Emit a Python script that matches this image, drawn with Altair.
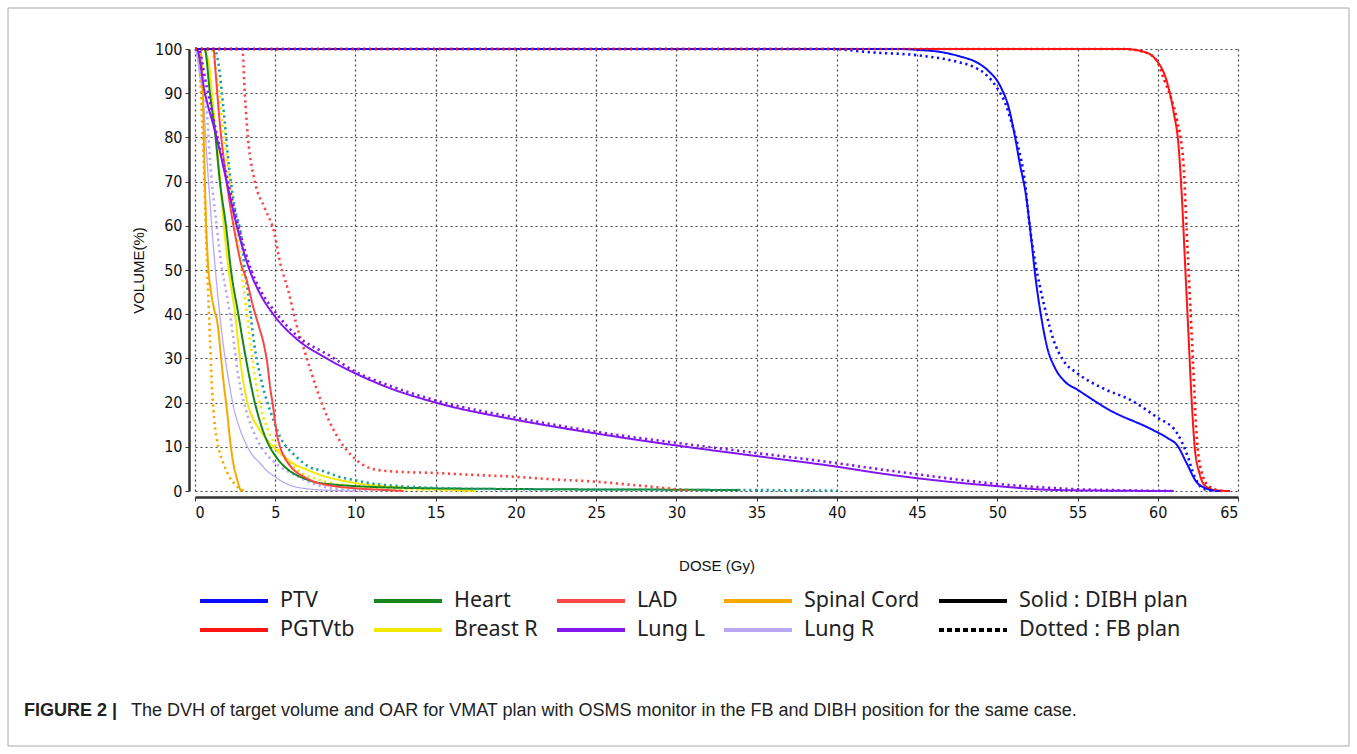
import altair as alt
import pandas as pd

ptv_dibh_dose = [0, 44, 45, 46.5, 47.7, 48.7, 49.4, 50.2, 50.7, 51.1, 51.4, 51.8, 52.1, 52.4, 52.7, 53.1, 53.6, 54.2, 55.0, 57.0, 59.7, 60.6, 61.2, 61.8, 62.4, 63.0, 63.5, 64]
ptv_dibh_vol = [100, 100, 99.8, 99.3, 98.3, 97, 95.2, 91.5, 86.9, 80.2, 74.1, 66.6, 57.5, 47.7, 40.2, 32.6, 27.8, 24.8, 22.9, 18.3, 13.8, 12, 10.4, 6.3, 2.1, 0.6, 0.1, 0]

ptv_fb_dose = [0, 39.5, 42.3, 45, 47.5, 48.5, 49.2, 50, 50.5, 50.9, 51.3, 51.7, 52.0, 52.3, 52.7, 53.1, 53.5, 54.1, 55, 56.6, 58.3, 59.9, 61.2, 61.8, 62.3, 62.8, 63.2, 63.6]
ptv_fb_vol = [100, 100, 99.2, 98.6, 97.1, 96, 94.5, 91.1, 87.7, 83.2, 77.9, 70.4, 60.6, 53, 45.5, 39.4, 34.2, 29.6, 26.6, 23.2, 20.6, 16.8, 13.1, 8.5, 3.2, 0.6, 0.2, 0]

pgtv_dibh_dose = [0, 57.9, 59.1, 59.9, 60.6, 61.0, 61.3, 61.5, 61.7, 61.9, 62.1, 62.3, 62.6, 63.0, 63.7, 64.5]
pgtv_dibh_vol = [100, 100, 99.4, 97.5, 92.2, 85.5, 77.9, 66.6, 51.5, 36.4, 21.3, 10.0, 4.0, 1.0, 0.1, 0]

pgtv_fb_dose = [0, 57.9, 59.1, 59.9, 60.4, 60.8, 61.2, 61.6, 61.8, 62.0, 62.2, 62.4, 62.7, 63.2, 64.0]
pgtv_fb_vol = [100, 100, 99.4, 97.6, 93, 89.2, 83.9, 74.1, 59, 44, 28.9, 13.8, 4.75, 1.0, 0]

heart_dibh_dose = [0, 0.6, 0.93, 1.28, 1.55, 1.93, 2.24, 2.7, 3.17, 3.73, 4.2, 4.66, 5.0, 5.5, 6.0, 6.7, 7.5, 8.5, 10, 12, 15, 20, 25, 30, 34]
heart_dibh_vol = [100, 100, 90, 80, 70, 60, 50, 40, 30, 20, 14, 10, 8, 5.8, 4.3, 3, 2, 1.5, 1.1, 0.8, 0.6, 0.45, 0.35, 0.3, 0.2]

heart_fb_dose = [0, 1.2, 1.45, 1.76, 2.13, 2.48, 2.9, 3.1, 3.3, 3.7, 4.2, 4.7, 5.3, 6.3, 7.1, 8, 9, 10, 11, 12.7, 15, 17, 20, 25, 30, 35, 40]
heart_fb_vol = [100, 100, 97, 87, 73, 64, 57, 50, 45, 33, 24, 18, 12.3, 7.8, 5.5, 4.5, 3.2, 2.4, 1.7, 1.1, 0.7, 0.5, 0.4, 0.3, 0.25, 0.2, 0.1]

breast_dibh_dose = [0, 0.5, 0.85, 1.1, 1.5, 1.85, 2.1, 2.5, 2.8, 3.2, 3.6, 4.0, 4.5, 5.0, 5.5, 6, 7, 8, 9, 10, 12, 14, 16, 17.5]
breast_dibh_vol = [100, 100, 97, 88, 73, 58, 50, 40, 30, 21, 16.5, 14, 11.5, 9.5, 8, 6.5, 4.8, 3.4, 2.5, 1.8, 1, 0.6, 0.3, 0]

breast_fb_dose = [0, 1.0, 1.35, 1.86, 2.38, 2.85, 3.3, 3.73, 4.14, 4.6, 5.07, 5.9, 6.7, 7.5, 8.5, 10, 12, 14, 17]
breast_fb_vol = [100, 100, 94, 79, 64, 52, 38, 26, 18.3, 13.5, 10, 6.3, 4, 2.8, 1.8, 1, 0.5, 0.3, 0]

lad_dibh_dose = [0, 1.15, 1.3, 1.5, 1.9, 2.5, 2.9, 3.2, 3.6, 4.0, 4.3, 4.5, 4.7, 4.85, 5.1, 5.3, 5.6, 6.1, 6.9, 7.5, 8.5, 10, 12, 13]
lad_dibh_vol = [100, 100, 94, 85, 72, 58, 51, 48, 42, 37, 33, 29, 23, 19.5, 13, 10, 7.5, 5, 3, 2, 1.2, 0.6, 0.2, 0]

lad_fb_dose = [0, 2.95, 3.1, 3.3, 3.73, 4.35, 4.97, 5.28, 5.8, 6.3, 6.94, 7.5, 8.07, 9.0, 9.94, 11.3, 13, 14.8, 17, 20, 22, 25, 27.5, 30, 31]
lad_fb_vol = [100, 100, 90, 80, 70, 64, 58, 52, 45.5, 38, 30.4, 24, 18.3, 11.5, 7.4, 4.8, 4.3, 4.1, 3.7, 3.2, 2.7, 2.1, 1.3, 0.4, 0]

lungl_dibh_dose = [0, 0.1, 0.62, 1.35, 1.97, 2.6, 3.4, 4.0, 4.87, 6.3, 8.2, 10, 11.9, 15, 20, 25, 30, 35, 40, 42.5, 45, 47.5, 50, 53, 56, 61]
lungl_dibh_vol = [100, 100, 90, 80, 70, 60, 50, 45, 40, 34.5, 30, 26.6, 23.6, 20, 16.1, 13, 10.3, 7.9, 5.5, 4.1, 2.9, 1.9, 1.1, 0.3, 0.1, 0]

lungl_fb_dose = [0, 0.2, 0.7, 1.4, 2.05, 2.7, 3.5, 4.1, 5.0, 6.4, 8.4, 10, 12, 15, 20, 25, 30, 35, 40, 42.5, 45, 47.5, 50, 52.5, 55, 58, 61]
lungl_fb_vol = [100, 100, 92, 80, 70, 60, 50, 45.3, 40.5, 35, 30.6, 27, 24, 20.5, 16.6, 13.4, 10.9, 8.6, 6.3, 5, 3.8, 2.6, 1.6, 0.9, 0.4, 0.15, 0]

cord_dibh_dose = [0, 0.3, 0.45, 0.55, 0.65, 0.8, 1.0, 1.2, 1.4, 1.6, 1.8, 2.0, 2.2, 2.4, 2.6, 2.8, 2.9]
cord_dibh_vol = [100, 100, 95, 80, 65, 52, 45, 41, 38, 31, 24, 18, 11, 6, 3, 0.5, 0]

cord_fb_dose = [0, 0.25, 0.35, 0.45, 0.55, 0.65, 0.75, 0.85, 0.93, 1.0, 1.1, 1.2, 1.35, 1.55, 1.8, 2.1, 2.5, 2.8, 3.1]
cord_fb_vol = [100, 100, 92, 83, 74, 62, 52, 42, 35, 28, 21, 16, 12, 8.5, 6, 3.5, 1.5, 0.5, 0]

lungr_dibh_dose = [0, 0.1, 0.3, 0.5, 0.75, 1.0, 1.2, 1.4, 1.6, 1.8, 2.1, 2.4, 2.8, 3.2, 3.6, 4.0, 4.5, 5.0, 5.5, 6.0, 7, 8, 10]
lungr_dibh_vol = [100, 99, 94, 89, 75, 62, 53, 45, 38, 32, 25, 19, 14, 10.5, 8, 6.5, 4.5, 3.2, 2, 1.2, 0.5, 0.2, 0]

lungr_fb_dose = [0, 0.2, 0.4, 0.7, 1.0, 1.35, 1.65, 1.9, 2.3, 2.7, 3.2, 3.7, 4.2, 4.8, 5.3, 6.3, 7, 8, 9, 11]
lungr_fb_vol = [100, 98, 93, 87, 72, 60, 51, 46, 37, 26, 18, 13, 9.5, 7, 5.5, 3.5, 2.2, 1, 0.4, 0]

legend_order = ["PTV", "Heart", "LAD", "Spinal Cord", "Solid : DIBH plan",
                "PGTVtb", "Breast R", "Lung L", "Lung R", "Dotted : FB plan"]
color_domain = legend_order + ["Heart FB"]
color_range = ["#0b0bff", "#16861a", "#fb4646", "#f5a900", "#000000",
               "#ff1414", "#f4e800", "#8217ee", "#b8a8f3", "#000000", "#1b9d9d"]

caption_bold = ["FIGURE 2 |"]
caption_text = ["The DVH of target volume and OAR for VMAT plan with OSMS monitor in the FB and DIBH position for the same case."]

series = [
    ("Lung R", "DIBH", lungr_dibh_dose, lungr_dibh_vol),
    ("Lung R", "FB", lungr_fb_dose, lungr_fb_vol),
    ("Spinal Cord", "DIBH", cord_dibh_dose, cord_dibh_vol),
    ("Spinal Cord", "FB", cord_fb_dose, cord_fb_vol),
    ("Breast R", "DIBH", breast_dibh_dose, breast_dibh_vol),
    ("Breast R", "FB", breast_fb_dose, breast_fb_vol),
    ("Heart", "DIBH", heart_dibh_dose, heart_dibh_vol),
    ("Heart", "FB", heart_fb_dose, heart_fb_vol),
    ("LAD", "DIBH", lad_dibh_dose, lad_dibh_vol),
    ("LAD", "FB", lad_fb_dose, lad_fb_vol),
    ("Lung L", "DIBH", lungl_dibh_dose, lungl_dibh_vol),
    ("Lung L", "FB", lungl_fb_dose, lungl_fb_vol),
    ("PGTVtb", "DIBH", pgtv_dibh_dose, pgtv_dibh_vol),
    ("PTV", "DIBH", ptv_dibh_dose, ptv_dibh_vol),
    ("PTV", "FB", ptv_fb_dose, ptv_fb_vol),
    ("PGTVtb", "FB", pgtv_fb_dose, pgtv_fb_vol),
]

rows = []
for s, plan, ds, vs in series:
    key = "Heart FB" if (s == "Heart" and plan == "FB") else s
    for i, (d, v) in enumerate(zip(ds, vs)):
        rows.append(dict(structure=s, plan=plan, key=key, series=f"{s}|{plan}",
                         dose=d, vol=v, idx=i))
df = pd.DataFrame(rows)

# ---------------- chart ----------------
lines = alt.Chart(df).mark_line(strokeCap="butt", strokeJoin="round",
                                interpolate="monotone").encode(
    x=alt.X("dose:Q",
            scale=alt.Scale(domain=[0, 65], nice=False, zero=False),
            axis=alt.Axis(values=list(range(0, 66, 5)), title="DOSE (Gy)",
                          offset=6, titlePadding=38)),
    y=alt.Y("vol:Q",
            scale=alt.Scale(domain=[0, 100], nice=False),
            axis=alt.Axis(values=list(range(0, 101, 10)), title="VOLUME(%)",
                          offset=6, titlePadding=8)),
    color=alt.Color("key:N",
                    scale=alt.Scale(domain=color_domain, range=color_range),
                    legend=alt.Legend(values=legend_order, title=None, orient="none",
                                      direction="horizontal",
                                      legendX=3, legendY=541, columns=5,
                                      symbolType="stroke", symbolSize=4624,
                                      symbolStrokeWidth=4,
                                      symbolDash={"expr": "datum.value == 'Dotted : FB plan' ? [5, 3] : [1, 0]"},
                                      labelFont="Noto Sans", labelFontSize=21.5,
                                      labelColor="#222", labelOffset=10,
                                      columnPadding=17, rowPadding=7,
                                      clipHeight=22, padding=0, labelLimit=300)),
    strokeDash=alt.StrokeDash("plan:N",
                              scale=alt.Scale(domain=["DIBH", "FB"], range=[[1, 0], [2.2, 3.6]]),
                              legend=None),
    strokeWidth=alt.StrokeWidthValue(
        2,
        condition=[{"test": "datum.key == 'Lung R' && datum.plan == 'DIBH'", "value": 1.3},
                   {"test": "datum.plan == 'FB'", "value": 2.6}]),
    detail="series:N",
    order="idx:Q",
)

frame = alt.Chart(pd.DataFrame({"a": [0]})).mark_rect(
    fillOpacity=0, stroke="#a8a8a8", strokeWidth=1
).encode(x=alt.value(-187), x2=alt.value(1154), y=alt.value(-41), y2=alt.value(697))

cap1 = alt.Chart(pd.DataFrame({"t": caption_bold})).mark_text(
    align="left", baseline="middle", font="Liberation Sans", fontSize=18,
    fontWeight="bold", color="#222"
).encode(x=alt.value(-171), y=alt.value(662), text="t:N")

cap2 = alt.Chart(pd.DataFrame({"t": caption_text})).mark_text(
    align="left", baseline="middle", font="Liberation Sans", fontSize=18,
    color="#222"
).encode(x=alt.value(-64), y=alt.value(662), text="t:N")

chart = alt.layer(frame, lines, cap1, cap2).properties(
    width=1043, height=442,
    autosize=alt.AutoSizeParams(type="none"),
    padding={"left": 195, "top": 49, "right": 119, "bottom": 263},
    background="white",
).configure_view(stroke=None).configure_axis(
    domainColor="#333", domainWidth=2.5, tickColor="#333", tickSize=4,
    labelFont="DejaVu Sans Condensed", labelFontSize=16, labelColor="#111",
    labelPadding=3,
    titleFont="Liberation Sans", titleFontSize=15, titleFontWeight="normal",
    titleColor="#111",
    grid=True, gridDash=[2, 3], gridColor="#444", gridWidth=1.2, gridOpacity=1,
)

chart.save("out.html", embed_options={"renderer": "svg", "actions": False})
